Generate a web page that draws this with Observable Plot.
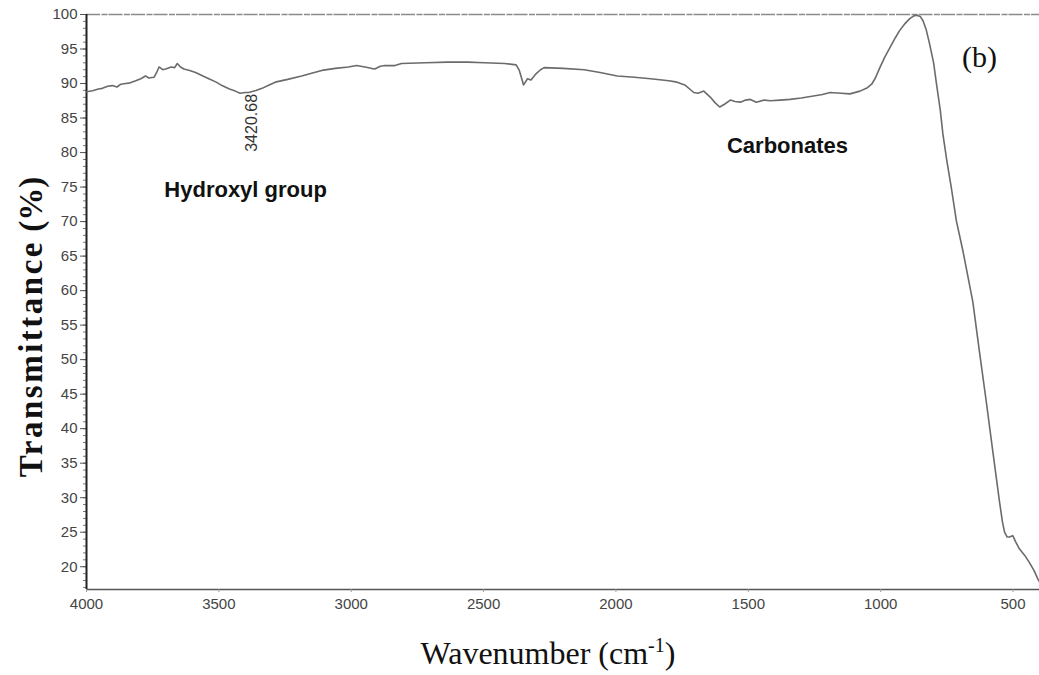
<!DOCTYPE html>
<html>
<head>
<meta charset="utf-8">
<script src="https://cdn.jsdelivr.net/npm/d3@7"></script>
<script src="https://cdn.jsdelivr.net/npm/@observablehq/plot@0.6"></script>
<style>
  html, body { margin: 0; padding: 0; background: #fff; }
  #chart svg { display: block; }
  g[aria-label="y-axis tick label"], g[aria-label="x-axis tick label"] {
    font-family: "Liberation Sans Narrow", "Arial Narrow", "Liberation Sans", Arial, sans-serif;
    font-size: 15px;
    fill: #444;
  }
</style>
</head>
<body>
<div id="chart"></div>
<script>
// ---- Data ----
const wavenumber = [
  4000, 3977, 3955, 3940, 3920, 3902, 3885, 3870, 3852, 3835, 3814, 3795, 3777, 3765, 3745, 3735,
  3726, 3712, 3701, 3680, 3667, 3657, 3645, 3632, 3610, 3588, 3560, 3538, 3510, 3488, 3460, 3438,
  3420, 3400, 3387, 3360, 3337, 3310, 3287, 3240, 3187, 3150, 3111, 3060, 3011, 2980, 2948, 2925,
  2911, 2890, 2873, 2835, 2810, 2720, 2635, 2560, 2497, 2420, 2377, 2365, 2349, 2334, 2321, 2302,
  2285, 2271, 2200, 2120, 2060, 1995, 1930, 1869, 1800, 1769, 1740, 1706, 1690, 1668, 1643, 1625,
  1608, 1590, 1568, 1550, 1530, 1510, 1492, 1470, 1440, 1417, 1380, 1342, 1300, 1254, 1220, 1191,
  1150, 1116, 1078, 1050, 1034, 1020, 1003, 985, 965, 945, 928, 910, 890, 875, 865, 850,
  840, 828, 815, 800, 789, 775, 765, 750, 733, 714, 689, 652, 627, 601, 576, 551,
  540, 532, 522, 514, 501, 490, 476, 455, 438, 420, 406, 400
];
const transmittance = [
  88.8, 88.95, 89.2, 89.3, 89.6, 89.7, 89.5, 89.9, 90.0, 90.1, 90.4, 90.7, 91.1, 90.8, 90.9, 91.6,
  92.4, 92.0, 92.1, 92.4, 92.3, 92.9, 92.4, 92.1, 91.9, 91.6, 91.1, 90.7, 90.2, 89.7, 89.2, 88.9,
  88.6, 88.7, 88.7, 89.0, 89.3, 89.8, 90.2, 90.6, 91.1, 91.5, 91.9, 92.2, 92.4, 92.6, 92.4, 92.2,
  92.1, 92.5, 92.6, 92.6, 92.9, 93.0, 93.1, 93.1, 93.0, 92.9, 92.7, 91.9, 89.8, 90.7, 90.5, 91.4,
  92.0, 92.3, 92.2, 92.0, 91.6, 91.1, 90.9, 90.7, 90.4, 90.2, 89.8, 88.7, 88.6, 88.9, 88.0, 87.2,
  86.6, 87.0, 87.6, 87.4, 87.3, 87.6, 87.7, 87.3, 87.6, 87.5, 87.6, 87.7, 87.9, 88.2, 88.4, 88.7,
  88.6, 88.5, 88.9, 89.4, 89.9, 90.8, 92.3, 93.8, 95.2, 96.6, 97.7, 98.6, 99.4, 99.8, 99.9, 99.7,
  99.1, 97.8, 95.7, 93.0, 89.9, 86.2, 82.7, 78.8, 74.9, 70.1, 65.7, 58.4, 51.2, 43.9, 36.6, 29.4,
  26.5, 25.0, 24.3, 24.3, 24.5, 23.6, 22.6, 21.6, 20.6, 19.4, 18.2, 17.8
];
const xDomain = [4000, 400];
const yDomain = [16.7, 100];
const xTicks = [4000, 3500, 3000, 2500, 2000, 1500, 1000, 500];
const yTicks = [20, 25, 30, 35, 40, 45, 50, 55, 60, 65, 70, 75, 80, 85, 90, 95, 100];
const yMinorTicks = d3.range(17, 101);

const groupLabels = ["Hydroxyl group", "Carbonates"];
const groupLabelX = [3399, 1352];
const groupLabelY = [74.65, 80.9];
const peakLabel = ["3420.68"];
const peakLabelX = [3377];
const peakLabelY = [84.3];
const panelLabel = ["(b)"];
const panelLabelX = [627];
const panelLabelY = [93.75];
const xTitle = "Wavenumber (cm-1)";
const yTitle = "Transmittance (%)";

const spectrum = wavenumber.map((w, i) => ({w, t: transmittance[i]}));

const serif = "'Liberation Serif', 'Times New Roman', 'DejaVu Serif', serif";
const sans = "'Liberation Sans', Arial, Helvetica, sans-serif";

const chart = Plot.plot({
  width: 1039,
  height: 675,
  marginLeft: 86,
  marginRight: 0,
  marginTop: 14,
  marginBottom: 86,
  style: {background: "#fff", color: "#222", overflow: "visible"},
  x: {domain: xDomain, label: null},
  y: {domain: yDomain, label: null},
  marks: [
    // frame lines
    Plot.ruleY([yDomain[1]], {stroke: "#8a8a8a", strokeWidth: 1.6, strokeDasharray: "14,1.5,6,1"}),
    Plot.ruleY([yDomain[0]], {stroke: "#555", strokeWidth: 1.6}),
    // axes
    Plot.axisY(yMinorTicks, {tickSize: 3, tickFormat: () => "", stroke: "#777", label: null}),
    Plot.axisY(yTicks, {tickSize: 6, tickPadding: 3, stroke: "#555", label: null}),
    Plot.axisX(xTicks, {tickSize: 3, tickPadding: 6, stroke: "#999", tickFormat: d => String(d), label: null}),
    Plot.ruleX([xDomain[0]], {stroke: "#222", strokeWidth: 2}),
    // spectrum
    Plot.line(spectrum, {x: "w", y: "t", stroke: "#6b6b6b", strokeWidth: 1.6, curve: "linear"}),
    // annotations
    Plot.text(groupLabels, {x: (d, i) => groupLabelX[i], y: (d, i) => groupLabelY[i], text: d => d,
      fontFamily: sans, fontSize: 22, fontWeight: "bold", fill: "#111"}),
    Plot.text(peakLabel, {x: (d, i) => peakLabelX[i], y: (d, i) => peakLabelY[i], text: d => d,
      rotate: -90, fontFamily: sans, fontSize: 16, fill: "#333"}),
    Plot.text(panelLabel, {x: (d, i) => panelLabelX[i], y: (d, i) => panelLabelY[i], text: d => d,
      fontFamily: serif, fontSize: 30, fill: "#111"}),
    // axis titles
    Plot.text([xTitle], {text: d => d, frameAnchor: "bottom", textAnchor: "middle", lineAnchor: "bottom", dx: -15, dy: 74,
      fontFamily: serif, fontSize: 32, fill: "#111"}),
    Plot.text([yTitle], {text: d => d, frameAnchor: "left", textAnchor: "middle", lineAnchor: "bottom", rotate: -90, dx: -45, dy: 25,
      fontFamily: serif, fontSize: 33, fontWeight: "bold", fill: "#111"})
  ]
});

document.getElementById("chart").appendChild(chart);

// superscript in the x title; letter spacing for the y title word
d3.select(chart).selectAll("text").each(function() {
  const el = d3.select(this);
  const s = this.textContent;
  if (s === xTitle) {
    el.text(null);
    el.append("tspan").text("Wavenumber (cm");
    el.append("tspan").attr("dy", -12).attr("font-size", 20).text("-1");
    el.append("tspan").attr("dy", 12).text(")");
  } else if (s === yTitle) {
    el.text(null);
    el.append("tspan").style("letter-spacing", "2.5px").text("Transmittance");
    el.append("tspan").text(" (%)");
  }
});
</script>
</body>
</html>
